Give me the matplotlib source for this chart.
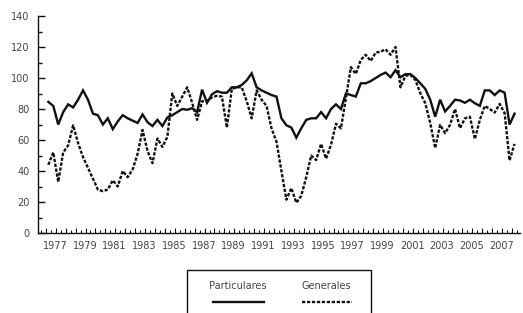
import matplotlib
matplotlib.use("Agg")
import matplotlib.pyplot as plt
from matplotlib.lines import Line2D
from matplotlib.patches import Rectangle
import numpy as np

series_names = ["Particulares", "Generales"]

particulares = [84.6, 82, 70, 78, 83, 81, 86, 92, 86, 77,
                76, 70, 74, 67, 72, 76, 74, 72.5, 71, 76.5,
                71.5, 69, 73, 69, 74.5, 76, 78, 80, 79.5, 80.5,
                78, 92.5, 84, 89.5, 91.5, 90.5, 90.5, 94, 94, 95.5,
                98.5, 103, 94, 92, 90.5, 89, 88, 74, 69.5, 68,
                61.5, 67.6, 73, 74, 74, 78, 74, 80, 83, 80,
                90, 89, 88, 96.6, 96.6, 98, 100, 102, 103.5, 100.5,
                105, 100.5, 102.5, 102.5, 100, 96.6, 93, 86, 75, 86,
                78.4, 82, 86, 85.5, 84, 86, 83.7, 82, 92, 92,
                89, 92, 90.5, 70, 77]

generales = [44, 52, 33, 52, 56.5, 69.5, 58, 49, 42, 35,
             28, 27, 28, 34, 30, 40, 36, 41, 51, 66.5,
             53, 45, 61, 55.5, 62, 90, 82, 88, 94, 84,
             73, 85, 85, 87.5, 88.5, 88, 68, 93, 94, 94,
             85, 74, 92, 86, 82, 67.5, 59, 40, 21.5, 29,
             19.5, 24, 36, 50, 47, 57.5, 48, 57, 70.5, 67.5,
             87, 107, 102.6, 111.7, 115, 111, 116.4, 117, 118.5, 115,
             120, 94, 101.4, 102, 98.8, 90.2, 83.7, 71, 54.8, 69.8,
             64.4, 69.8, 80, 67.6, 74, 75, 60.6, 73, 82, 80,
             77.7, 83.3, 77.3, 46.8, 57.5]

year_labels = [str(y) for y in range(1977, 2008, 2)]

W, H = 523, 313
fig = plt.figure(figsize=(W / 100, H / 100), dpi=100)
ax = fig.add_axes([38 / W, 80 / H, (520 - 38) / W, (233 - 16) / H])

x = np.arange(len(particulares))
ax.plot(x, particulares, color="#111111", lw=1.7, solid_joinstyle="miter")
ax.plot(x, generales, color="#111111", lw=1.7, linestyle=(0, (1.4, 0.7)))

ax.set_xlim(-2.08, 95.1)
ax.set_ylim(0, 140)

for s in ["top", "right"]:
    ax.spines[s].set_visible(False)
for s in ["left", "bottom"]:
    ax.spines[s].set_linewidth(1.0)
    ax.spines[s].set_color("#111111")

grey = "#444444"
ax.set_yticks(np.arange(0, 141, 20))
ax.set_yticks(np.arange(10, 140, 20), minor=True)
ax.tick_params(axis="y", which="major", direction="in", length=5, width=1,
               labelsize=7, labelcolor=grey, pad=6, color="#111111")
ax.tick_params(axis="y", which="minor", direction="in", length=3, width=1,
               color="#111111")

label_pos = 1.35 + 6 * np.arange(len(year_labels))
ax.set_xticks(label_pos)
ax.set_xticklabels(year_labels)
ax.tick_params(axis="x", which="major", length=0, labelsize=7,
               labelcolor=grey, pad=6)
ax.set_xticks(np.arange(-1.5, 95, 1.0), minor=True)
ax.tick_params(axis="x", which="minor", direction="in", length=2, width=0.8,
               color="#111111")
# taller ticks alternate
for k, t in enumerate(ax.xaxis.get_minor_ticks()):
    if k % 2 == 1:
        t.tick1line.set_markersize(3.8)

# legend box (manual, text above the line sample)
def px(xp, yp):
    return (xp / W, 1 - yp / H)

rx0, ry0 = px(187, 335)
rx1, ry1 = px(371, 270)
fig.patches.append(Rectangle((rx0, ry0), rx1 - rx0, ry1 - ry0,
                             transform=fig.transFigure, fill=False,
                             edgecolor="#111111", lw=1.0))
tx, ty = px(238, 286)
fig.text(tx, ty, series_names[0], ha="center", va="center", fontsize=7,
         color=grey)
tx, ty = px(326, 286)
fig.text(tx, ty, series_names[1], ha="center", va="center", fontsize=7,
         color=grey)
a, yy = px(213, 302)
b, _ = px(264, 302)
fig.lines.append(Line2D([a, b], [yy, yy], transform=fig.transFigure,
                        color="#111111", lw=1.7))
a, _ = px(302, 302)
b, _ = px(352, 302)
fig.lines.append(Line2D([a, b], [yy, yy], transform=fig.transFigure,
                        color="#111111", lw=1.7, linestyle=(0, (1.4, 0.7))))

fig.savefig("out.png", dpi=100)
